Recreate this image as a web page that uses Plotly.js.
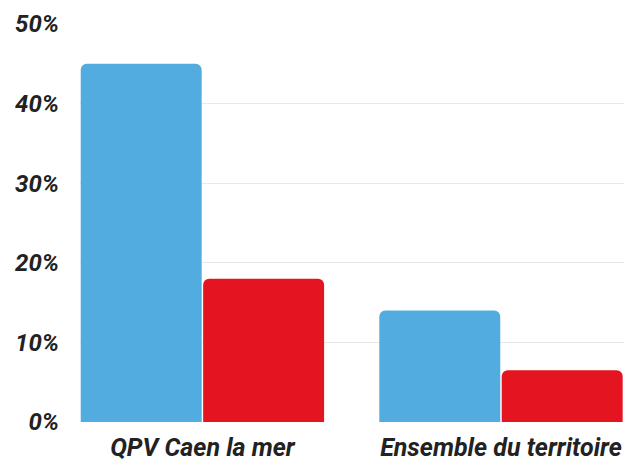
<!DOCTYPE html>
<html>
<head>
<meta charset="utf-8">
<script src="https://cdn.plot.ly/plotly-3.0.1.min.js"></script>
<style>html,body{margin:0;padding:0;background:#fff;}#chart{width:633px;height:464px;}</style>
</head>
<body>
<div id="chart"></div>
<script>
var categories = ["QPV Caen la mer", "Ensemble du territoire"];
var seriesBlue = [45, 14];
var seriesRed = [18, 6.5];
var yTickVals = [0, 10, 20, 30, 40, 50];
var yTickText = ["0%", "10%", "20%", "30%", "40%", "50%"];

var yFont = {family: "Roboto, sans-serif", size: 24, color: "#222222", weight: 700, style: "italic"};
var xFont = {family: "Roboto, sans-serif", size: 25, color: "#222222", weight: 700, style: "italic"};

var data = [
  {type: "bar", x: categories, y: seriesBlue, marker: {color: "#52ace0"}, hoverinfo: "none"},
  {type: "bar", x: categories, y: seriesRed, marker: {color: "#e41421"}, hoverinfo: "none"}
];

var layout = {
  width: 633, height: 464,
  margin: {l: 80, r: 9, t: 24, b: 42},
  paper_bgcolor: "#ffffff", plot_bgcolor: "#ffffff",
  showlegend: false,
  barmode: "group",
  bargap: 0.18,
  bargroupgap: 0.012,
  barcornerradius: 6,
  xaxis: {
    type: "category",
    range: [-0.41, 1.412],
    showgrid: false, zeroline: false, showline: false,
    ticks: "", tickfont: xFont, ticklabelstandoff: 8
  },
  yaxis: {
    range: [0, 50],
    tickvals: yTickVals, ticktext: yTickText,
    showgrid: true, gridcolor: "#e8e8e8", gridwidth: 1,
    zeroline: false, showline: false, ticks: "",
    tickfont: yFont, ticklabelstandoff: 20
  }
};

Plotly.newPlot("chart", data, layout, {staticPlot: true, displayModeBar: false});
</script>
</body>
</html>
